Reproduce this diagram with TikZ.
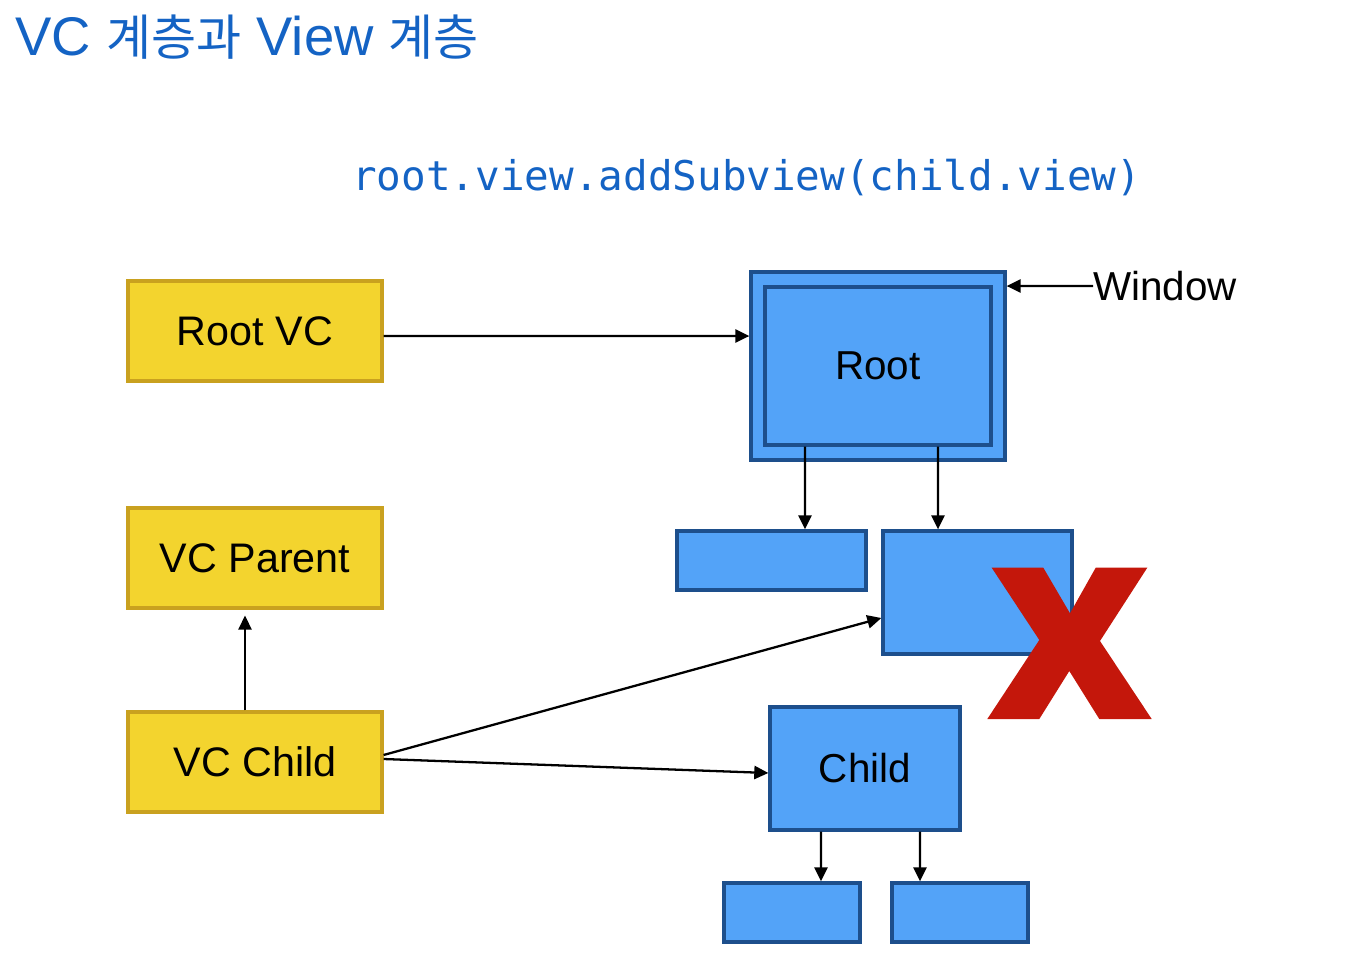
\documentclass[tikz,border=0pt]{standalone}
\usepackage{fontspec}
\setmainfont{Liberation Sans}
\newfontfamily\krfont[Scale=0.9]{Noto Sans CJK KR}
\newfontfamily\codefont{DejaVu Sans Mono}
\usetikzlibrary{arrows.meta}

\definecolor{titleblue}{HTML}{1463C4}
\definecolor{vcfill}{HTML}{F3D42E}
\definecolor{vcline}{HTML}{C9A11F}
\definecolor{viewfill}{HTML}{53A3F8}
\definecolor{viewline}{HTML}{1D4F8C}
\definecolor{xred}{HTML}{C4170B}

\tikzset{
  vcbox/.style={draw=vcline, fill=vcfill, line width=1.8pt, minimum width=5.08cm, minimum height=2cm, font=\fontsize{23.5}{26}\selectfont},
  viewbox/.style={draw=viewline, fill=viewfill, line width=1.9pt, font=\fontsize{23}{26}\selectfont},
  arr/.style={line width=1.3pt, -{Triangle[length=8pt, width=7.5pt]}}
}

\begin{document}
\begin{tikzpicture}[x=0.02cm, y=-0.02cm]
		\useasboundingbox (0, 0) rectangle (1370, 974);

		% headings
		\node[anchor=base west, inner sep=0, text=titleblue, font=\fontsize{31}{36}\selectfont] (title) at (15, 55) {VC {\krfont 계층과} View {\krfont 계층}};
		\node[anchor=base west, inner sep=0, text=titleblue, font=\codefont\fontsize{23.3}{26}\selectfont] (code) at (352, 190) {root.view.addSubview(child.view)};

		% view controllers
		\node[vcbox] (rootvc) at (255, 331) {Root VC};
		\node[vcbox] (vcparent) at (255, 558) {VC Parent};
		\node[vcbox] (vcchild) at (255, 762) {VC Child};

		% views
		\node[viewbox, minimum width=5.08cm, minimum height=3.76cm] (window) at (878, 366) {};
		\node[viewbox, minimum width=4.52cm, minimum height=3.16cm] (root) at (878, 366) {Root};
		\node[viewbox, minimum width=3.78cm, minimum height=1.18cm] (suba) at (771.5, 560.5) {};
		\node[viewbox, minimum width=3.78cm, minimum height=2.46cm] (subb) at (977.5, 592.5) {};
		\node[viewbox, minimum width=3.8cm, minimum height=2.46cm] (child) at (865, 768.5) {Child};
		\node[viewbox, minimum width=2.72cm, minimum height=1.18cm] (childa) at (792, 912.5) {};
		\node[viewbox, minimum width=2.72cm, minimum height=1.18cm] (childb) at (960, 912.5) {};

		\node[anchor=west, inner sep=0, font=\fontsize{23}{26}\selectfont] (windowlabel) at (1093, 286) {Window};

		% the cross
		\fill[xred] (991.7, 567.7) -- (1043.3, 567.7) -- (1070, 613.3) -- (1095.7, 567.7) -- (1147.3, 567.7)
			-- (1100, 641) -- (1151.7, 719) -- (1099.3, 719) -- (1069.3, 671) -- (1039.3, 719)
			-- (987.3, 719) -- (1039.3, 640) -- cycle;

		% connectors
		\draw[arr] ([yshift=-0.1cm]rootvc.east) -- ([yshift=0.6cm]window.west);
		\draw[arr] ([xshift=-0.2cm]vcchild.north) -- ([xshift=-0.2cm, yshift=-0.12cm]vcparent.south);
		\draw[arr] ([yshift=0.14cm]vcchild.east) -- ([yshift=-0.51cm]subb.west);
		\draw[arr] ([yshift=0.06cm]vcchild.east) -- ([yshift=-0.09cm]child.west);
		\draw[arr] (windowlabel.west) -- ([yshift=1.6cm]window.east);

		\draw[arr] ([xshift=-1.46cm]root.south) -- ([xshift=0.67cm]suba.north);
		\draw[arr] ([xshift=1.2cm]root.south) -- ([xshift=-0.79cm]subb.north);
		\draw[arr] ([xshift=-0.88cm]child.south) -- ([xshift=0.58cm]childa.north);
		\draw[arr] ([xshift=1.1cm]child.south) -- ([xshift=-0.8cm]childb.north);
	\end{tikzpicture}
\end{document}
